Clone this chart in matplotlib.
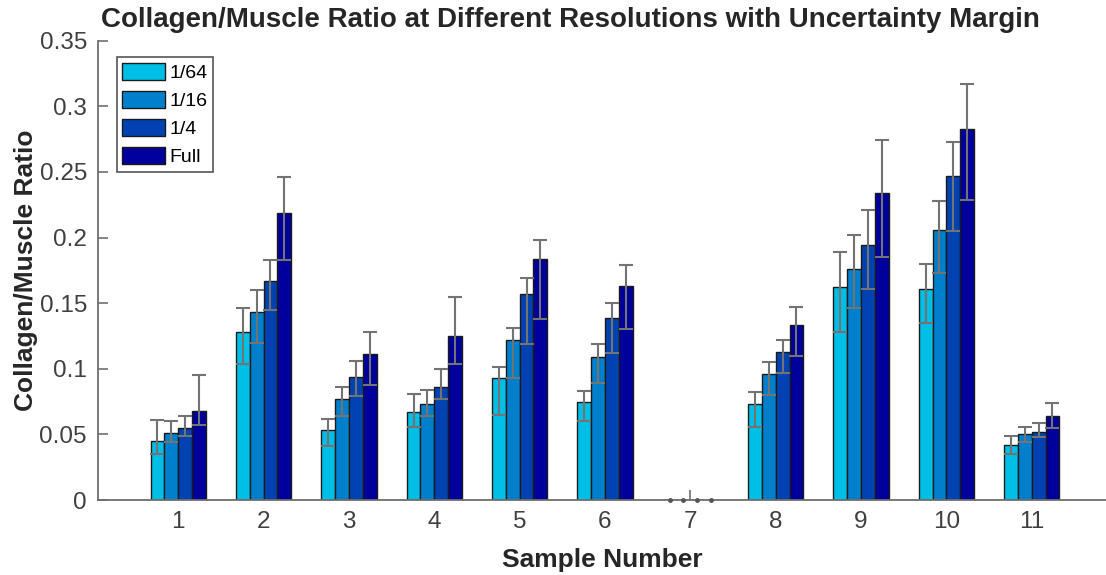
import numpy as np
import matplotlib
matplotlib.use('Agg')
import matplotlib.pyplot as plt

# values
samples = [1, 2, 3, 4, 5, 6, 7, 8, 9, 10, 11]
resolutions = ['1/64', '1/16', '1/4', 'Full']

r64 = [0.045, 0.128, 0.053, 0.067, 0.093, 0.075, 0, 0.073, 0.162, 0.161, 0.042]
r16 = [0.051, 0.143, 0.077, 0.073, 0.122, 0.109, 0, 0.096, 0.176, 0.206, 0.050]
r4 = [0.055, 0.167, 0.094, 0.086, 0.157, 0.139, 0, 0.113, 0.194, 0.247, 0.052]
rfull = [0.068, 0.219, 0.111, 0.125, 0.184, 0.163, 0, 0.133, 0.234, 0.283, 0.064]

# upper / lower ends of the uncertainty margin
hi64 = [0.061, 0.146, 0.062, 0.081, 0.101, 0.083, 0, 0.082, 0.189, 0.180, 0.049]
lo64 = [0.035, 0.104, 0.041, 0.056, 0.065, 0.060, 0, 0.056, 0.128, 0.135, 0.035]
hi16 = [0.060, 0.160, 0.086, 0.084, 0.131, 0.119, 0, 0.105, 0.202, 0.228, 0.056]
lo16 = [0.044, 0.120, 0.064, 0.064, 0.093, 0.089, 0, 0.080, 0.146, 0.173, 0.044]
hi4 = [0.064, 0.183, 0.106, 0.100, 0.169, 0.150, 0, 0.122, 0.221, 0.273, 0.059]
lo4 = [0.049, 0.145, 0.079, 0.077, 0.119, 0.112, 0, 0.097, 0.161, 0.205, 0.048]
hifull = [0.095, 0.246, 0.128, 0.155, 0.198, 0.179, 0, 0.147, 0.274, 0.317, 0.074]
lofull = [0.057, 0.183, 0.088, 0.104, 0.138, 0.130, 0, 0.110, 0.185, 0.229, 0.055]

colors = ['#00BFE6', '#0080CC', '#0042B2', '#00009C']

plt.rcParams['font.family'] = ['Liberation Sans', 'DejaVu Sans']

fig = plt.figure(figsize=(11.06, 5.75), dpi=100)
ax = fig.add_axes([0.0886, 0.1304, 0.9114, 0.7988])

x = np.array(samples, dtype=float)
bw = 0.162
series = [(r64, lo64, hi64), (r16, lo16, hi16), (r4, lo4, hi4), (rfull, lofull, hifull)]

for i, (vals, lo, hi) in enumerate(series):
    vals = np.array(vals)
    pos = x + (i - 1.5) * bw
    ax.bar(pos, vals, width=bw, color=colors[i], edgecolor='#1a1a1a',
           linewidth=1.0, label=resolutions[i], zorder=2)
    err = [vals - np.array(lo), np.array(hi) - vals]
    nz = vals > 0
    ax.errorbar(pos[nz], vals[nz], yerr=[err[0][nz], err[1][nz]], fmt='none',
                ecolor='#737373', elinewidth=1.5, capsize=5, capthick=1.5, zorder=3)
    # empty sample shows only the error markers on the axis
    ax.plot(pos[~nz], vals[~nz], 'o', color='#555555', markersize=2.5,
            zorder=4, clip_on=False)

ax.set_xlim(0.06, 11.87)
ax.set_ylim(0, 0.35)
ax.set_xticks(samples)
ax.set_yticks(np.arange(0, 0.351, 0.05))
ax.set_yticklabels(['0', '0.05', '0.1', '0.15', '0.2', '0.25', '0.3', '0.35'])

for s in ['top', 'right']:
    ax.spines[s].set_visible(False)
for s in ['left', 'bottom']:
    ax.spines[s].set_color('#6e6e6e')
    ax.spines[s].set_linewidth(1.3)

ax.tick_params(direction='in', length=7, width=1.2, color='#6e6e6e',
               labelsize=17.5, labelcolor='#404040', pad=8)

ax.set_title('Collagen/Muscle Ratio at Different Resolutions with Uncertainty Margin',
             fontsize=20, fontweight='bold', color='#262626', pad=10, x=0.469)
ax.set_xlabel('Sample Number', fontsize=19, fontweight='bold', color='#262626', labelpad=11)
ax.set_ylabel('Collagen/Muscle Ratio', fontsize=19, fontweight='bold', color='#262626', labelpad=1)

leg = ax.legend(loc='upper left', bbox_to_anchor=(0.0185, 0.965), fontsize=14,
                handlelength=2.2, handleheight=1.0, handletextpad=0.2,
                labelspacing=0.45, borderpad=0.3, borderaxespad=0.0,
                fancybox=False, framealpha=1)
leg.get_frame().set_edgecolor('#555555')
leg.get_frame().set_linewidth(1.2)

fig.savefig('out.png', dpi=100)
